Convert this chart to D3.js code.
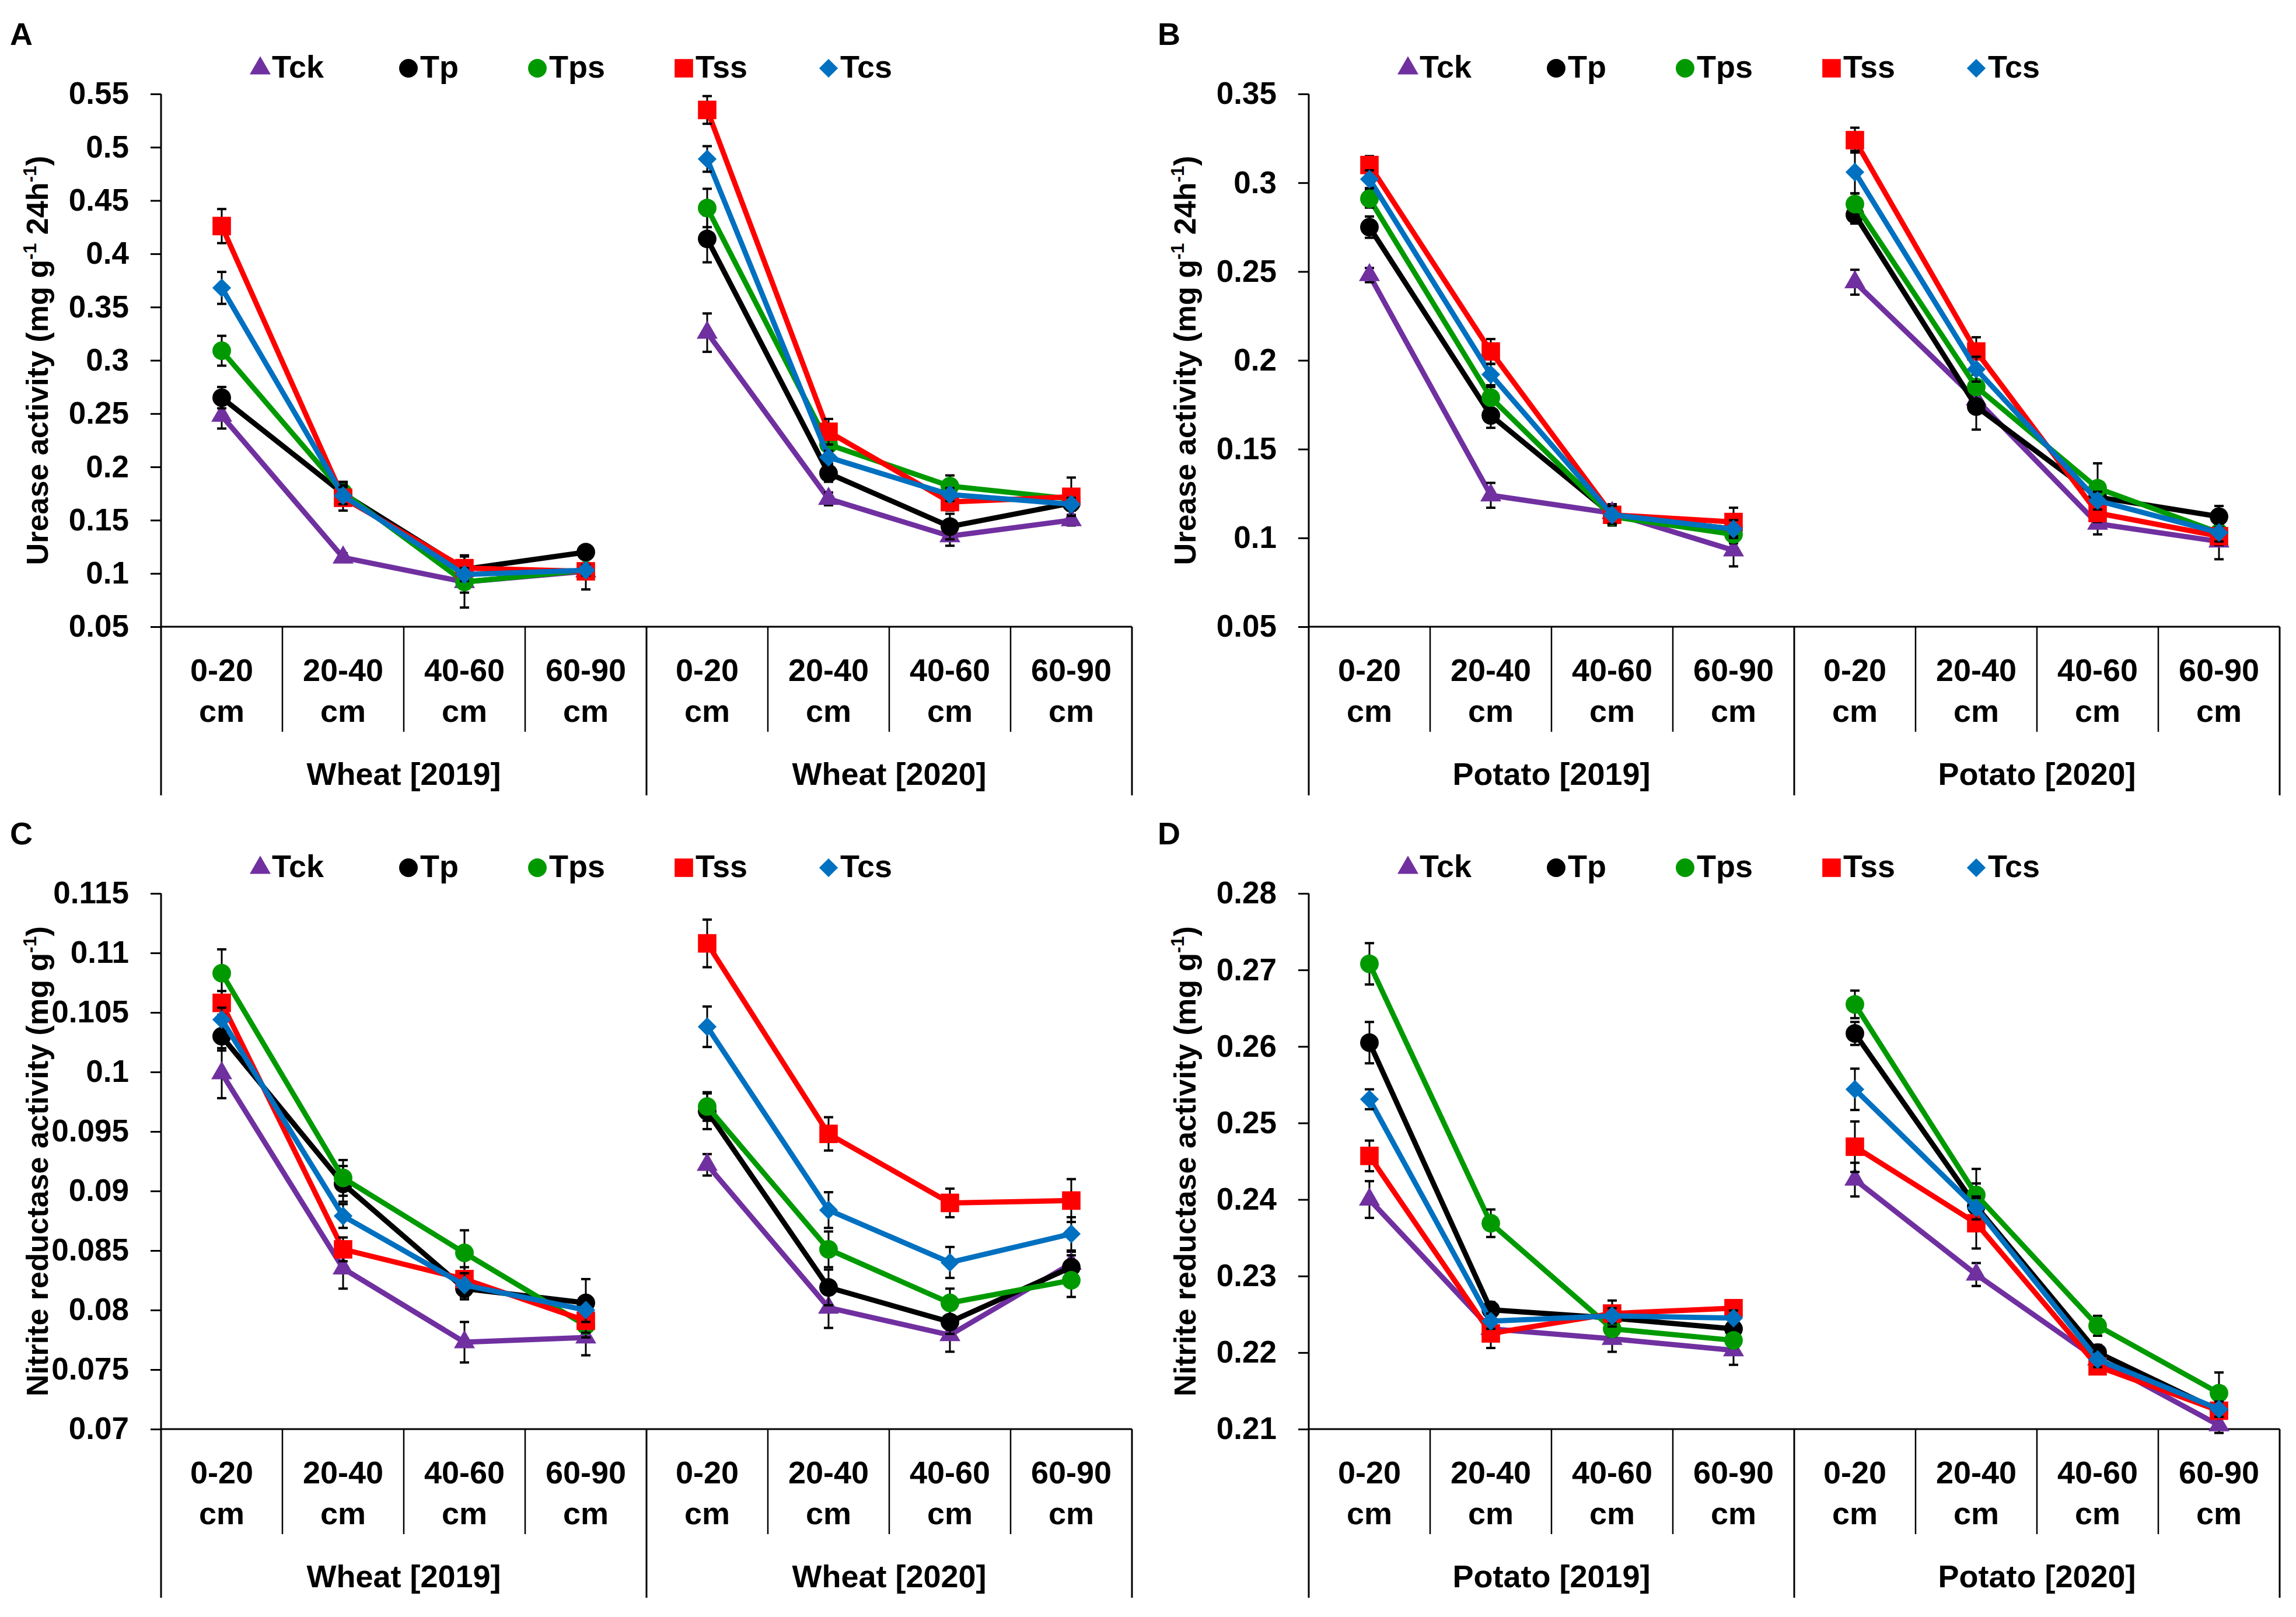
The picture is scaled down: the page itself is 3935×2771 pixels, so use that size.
<!DOCTYPE html>
<html lang="en">
<head>
<meta charset="UTF-8">
<title>Urease and nitrite reductase activity</title>
<script src="https://d3js.org/d3.v7.min.js"></script>
<style>
    body { margin: 0; background: #fff; }
    text { font-family: "Liberation Sans", Arial, sans-serif; font-weight: bold; fill: #000; }
</style>
</head>
<body>
<div id="chart"></div>
<script>
    // categories
    const depths = ['0-20', '20-40', '40-60', '60-90', '0-20', '20-40', '40-60', '60-90'];
    const seriesNames = ['Tck', 'Tp', 'Tps', 'Tss', 'Tcs'];
    const seriesColors = ['#7030A0', '#000000', '#009A00', '#FF0000', '#0070C0'];
    const wheatGroups = ['Wheat [2019]', 'Wheat [2020]'];
    const potatoGroups = ['Potato [2019]', 'Potato [2020]'];

    // tick labels
    const ticksA = [0.05, 0.1, 0.15, 0.2, 0.25, 0.3, 0.35, 0.4, 0.45, 0.5, 0.55];
    const ticksB = [0.05, 0.1, 0.15, 0.2, 0.25, 0.3, 0.35];
    const ticksC = [0.07, 0.075, 0.08, 0.085, 0.09, 0.095, 0.1, 0.105, 0.11, 0.115];
    const ticksD = [0.21, 0.22, 0.23, 0.24, 0.25, 0.26, 0.27, 0.28];

    // A: urease, wheat (rows Tck, Tp, Tps, Tss, Tcs)
    const ureaseWheat = [
        [0.248, 0.115, 0.092, 0.102, 0.326, 0.170, 0.135, 0.150],
        [0.265, 0.175, 0.104, 0.120, 0.414, 0.194, 0.144, 0.166],
        [0.309, 0.176, 0.092, 0.103, 0.443, 0.221, 0.182, 0.170],
        [0.426, 0.171, 0.105, 0.102, 0.535, 0.233, 0.167, 0.172],
        [0.368, 0.173, 0.099, 0.103, 0.489, 0.209, 0.174, 0.165]
    ];
    const ureaseWheatErr = [
        [0.012, 0.004, 0.024, 0.005, 0.018, 0.006, 0.009, 0.005],
        [0.010, 0.010, 0.012, 0.006, 0.022, 0.008, 0.012, 0.006],
        [0.014, 0.010, 0.010, 0.006, 0.018, 0.008, 0.010, 0.008],
        [0.016, 0.012, 0.012, 0.017, 0.013, 0.012, 0.008, 0.018],
        [0.015, 0.008, 0.006, 0.005, 0.012, 0.006, 0.006, 0.006]
    ];

    // B: urease, potato
    const ureasePotato = [
        [0.248, 0.124, 0.114, 0.093, 0.244, 0.178, 0.108, 0.098],
        [0.275, 0.169, 0.113, 0.105, 0.282, 0.174, 0.123, 0.112],
        [0.291, 0.179, 0.112, 0.102, 0.288, 0.185, 0.128, 0.103],
        [0.310, 0.205, 0.113, 0.109, 0.324, 0.205, 0.114, 0.101],
        [0.302, 0.192, 0.113, 0.105, 0.306, 0.195, 0.121, 0.103]
    ];
    const ureasePotatoErr = [
        [0.004, 0.007, 0.005, 0.009, 0.007, 0.006, 0.006, 0.010],
        [0.006, 0.007, 0.005, 0.005, 0.005, 0.013, 0.005, 0.006],
        [0.005, 0.006, 0.005, 0.005, 0.006, 0.007, 0.014, 0.005],
        [0.005, 0.007, 0.005, 0.008, 0.007, 0.008, 0.005, 0.005],
        [0.005, 0.006, 0.005, 0.005, 0.012, 0.007, 0.005, 0.005]
    ];

    // C: nitrite reductase, wheat
    const nitriteWheat = [
        [0.0999, 0.0835, 0.0773, 0.0777, 0.0922, 0.0802, 0.0779, 0.0839],
        [0.1030, 0.0906, 0.0818, 0.0806, 0.0967, 0.0819, 0.0790, 0.0836],
        [0.1083, 0.0911, 0.0848, 0.0787, 0.0971, 0.0851, 0.0806, 0.0825],
        [0.1058, 0.0851, 0.0826, 0.0791, 0.1108, 0.0948, 0.0890, 0.0892],
        [0.1044, 0.0879, 0.0821, 0.0800, 0.1038, 0.0884, 0.0840, 0.0864]
    ];
    const nitriteWheatErr = [
        [0.0021, 0.0017, 0.0017, 0.0015, 0.0009, 0.0017, 0.0014, 0.0010],
        [0.0012, 0.0015, 0.0009, 0.0020, 0.0015, 0.0015, 0.0010, 0.0010],
        [0.0020, 0.0015, 0.0019, 0.0010, 0.0012, 0.0015, 0.0012, 0.0014],
        [0.0010, 0.0010, 0.0010, 0.0010, 0.0020, 0.0014, 0.0012, 0.0018],
        [0.0010, 0.0010, 0.0010, 0.0010, 0.0017, 0.0015, 0.0013, 0.0014]
    ];

    // D: nitrite reductase, potato
    const nitritePotato = [
        [0.2400, 0.2231, 0.2218, 0.2203, 0.2426, 0.2302, 0.2191, 0.2105],
        [0.2605, 0.2256, 0.2245, 0.2231, 0.2617, 0.2391, 0.2200, 0.2124],
        [0.2708, 0.2369, 0.2231, 0.2216, 0.2655, 0.2406, 0.2235, 0.2147],
        [0.2457, 0.2225, 0.2251, 0.2258, 0.2469, 0.2369, 0.2182, 0.2124],
        [0.2531, 0.2241, 0.2248, 0.2245, 0.2544, 0.2389, 0.2191, 0.2126]
    ];
    const nitritePotatoErr = [
        [0.0024, 0.0010, 0.0017, 0.0019, 0.0022, 0.0015, 0.0010, 0.0010],
        [0.0027, 0.0010, 0.0010, 0.0010, 0.0015, 0.0030, 0.0010, 0.0010],
        [0.0027, 0.0018, 0.0010, 0.0010, 0.0018, 0.0034, 0.0013, 0.0027],
        [0.0020, 0.0019, 0.0017, 0.0010, 0.0033, 0.0033, 0.0010, 0.0010],
        [0.0013, 0.0010, 0.0010, 0.0010, 0.0027, 0.0015, 0.0010, 0.0010]
    ];

    const width = 3935;
    const height = 2771;

    const svg = d3.select('#chart')
        .append('svg')
        .attr('width', width)
        .attr('height', height);

    const panels = [
        { letter: 'A', x0: 276, x1: 1940, top: 161, bottom: 1074, domain: [0.05, 0.55], ticks: ticksA,
          title: 'urease', groups: wheatGroups, values: ureaseWheat, errors: ureaseWheatErr },
        { letter: 'B', x0: 2243, x1: 3907, top: 161, bottom: 1074, domain: [0.05, 0.35], ticks: ticksB,
          title: 'urease', groups: potatoGroups, values: ureasePotato, errors: ureasePotatoErr },
        { letter: 'C', x0: 276, x1: 1940, top: 1531, bottom: 2449, domain: [0.07, 0.115], ticks: ticksC,
          title: 'nitrite', groups: wheatGroups, values: nitriteWheat, errors: nitriteWheatErr },
        { letter: 'D', x0: 2243, x1: 3907, top: 1531, bottom: 2449, domain: [0.21, 0.28], ticks: ticksD,
          title: 'nitrite', groups: potatoGroups, values: nitritePotato, errors: nitritePotatoErr }
    ];

    // marker shapes per series
    const diamond = d3.symbol().type(d3.symbolSquare).size(520)();
    const markerPath = [
        d3.symbol().type(d3.symbolTriangle).size(560)(),
        d3.symbol().type(d3.symbolCircle).size(800)(),
        d3.symbol().type(d3.symbolCircle).size(800)(),
        d3.symbol().type(d3.symbolSquare).size(1000)(),
        diamond
    ];
    const markerRotate = [0, 0, 0, 0, 45];

    const fmt = d => String(+d.toFixed(3));

    panels.forEach(p => drawPanel(p));

    function drawPanel(p) {
        const g = svg.append('g');

        const x = d3.scaleBand()
            .domain(d3.range(depths.length))
            .range([p.x0, p.x1])
            .padding(0);

        const y = d3.scaleLinear()
            .domain(p.domain)
            .range([p.bottom, p.top]);

        const cx = i => x(i) + x.bandwidth() / 2;

        // panel letter
        g.append('text')
            .attr('x', p.x0 - 259)
            .attr('y', p.top - 84)
            .attr('font-size', 54)
            .text(p.letter);

        // y axis
        const yAxis = g.append('g')
            .attr('transform', `translate(${p.x0},0)`)
            .call(d3.axisLeft(y).tickValues(p.ticks).tickFormat(fmt).tickSize(18).tickSizeOuter(0).tickPadding(37));
        yAxis.select('.domain').remove();
        yAxis.selectAll('.tick line').attr('stroke', '#000').attr('stroke-width', 3);
        yAxis.selectAll('.tick text')
            .attr('font-size', 53)
            .attr('font-family', '"Liberation Sans", Arial, sans-serif')
            .attr('font-weight', 'bold')
            .attr('fill', '#000');

        // axis lines
        g.append('line')
            .attr('x1', p.x0).attr('x2', p.x0)
            .attr('y1', p.top).attr('y2', p.bottom + 289)
            .attr('stroke', '#000').attr('stroke-width', 3);
        g.append('line')
            .attr('x1', p.x0).attr('x2', p.x1)
            .attr('y1', p.bottom).attr('y2', p.bottom)
            .attr('stroke', '#000').attr('stroke-width', 3);

        // category separators
        d3.range(1, depths.length + 1).forEach(i => {
            const xx = i === depths.length ? p.x1 : x(i);
            const long = i % 4 === 0;
            g.append('line')
                .attr('x1', xx).attr('x2', xx)
                .attr('y1', p.bottom).attr('y2', p.bottom + (long ? 289 : 180))
                .attr('stroke', '#000').attr('stroke-width', long ? 3 : 2.5);
        });

        // category labels
        depths.forEach((d, i) => {
            g.append('text')
                .attr('x', cx(i)).attr('y', p.bottom + 93)
                .attr('text-anchor', 'middle').attr('font-size', 54)
                .text(d);
            g.append('text')
                .attr('x', cx(i)).attr('y', p.bottom + 163)
                .attr('text-anchor', 'middle').attr('font-size', 54)
                .text('cm');
        });
        p.groups.forEach((gr, k) => {
            g.append('text')
                .attr('x', (x(k * 4) + (k === 1 ? p.x1 : x(4))) / 2)
                .attr('y', p.bottom + 271)
                .attr('text-anchor', 'middle').attr('font-size', 54)
                .text(gr);
        });

        // y axis title
        const tx = p.x0 - 194;
        const ty = (p.top + p.bottom) / 2;
        const title = g.append('text')
            .attr('transform', `translate(${tx},${ty}) rotate(-90)`)
            .attr('text-anchor', 'middle')
            .attr('font-size', 52);
        if (p.title === 'urease') {
            title.append('tspan').text('Urease activity (mg g');
            title.append('tspan').attr('font-size', 32).attr('dy', -20).text('-1');
            title.append('tspan').attr('dy', 20).text(' 24h');
            title.append('tspan').attr('font-size', 32).attr('dy', -20).text('-1');
            title.append('tspan').attr('dy', 20).text(')');
        } else {
            title.append('tspan').text('Nitrite reductase activity (mg g');
            title.append('tspan').attr('font-size', 32).attr('dy', -20).text('-1');
            title.append('tspan').attr('dy', 20).text(')');
        }

        // legend
        const legendX = [170, 424, 645, 896, 1144];
        seriesNames.forEach((name, s) => {
            const lx = p.x0 + legendX[s];
            g.append('path')
                .attr('d', markerPath[s])
                .attr('transform', `translate(${lx},${p.top - 44}) rotate(${markerRotate[s]})`)
                .attr('fill', seriesColors[s]);
            g.append('text')
                .attr('x', lx + 20)
                .attr('y', p.top - 28)
                .attr('font-size', 54)
                .text(name);
        });

        // series
        const line = d3.line()
            .x(d => cx(d.i))
            .y(d => y(d.v));

        p.values.forEach((vals, s) => {
            const pts = vals.map((v, i) => ({ i, v, e: p.errors[s][i] }));
            [pts.slice(0, 4), pts.slice(4)].forEach(seg => {
                g.append('path')
                    .attr('d', line(seg))
                    .attr('fill', 'none')
                    .attr('stroke', seriesColors[s])
                    .attr('stroke-width', 9)
                    .attr('stroke-linejoin', 'round');
            });

            // error bars
            pts.forEach(d => {
                const xx = cx(d.i);
                g.append('line')
                    .attr('x1', xx).attr('x2', xx)
                    .attr('y1', y(d.v + d.e)).attr('y2', y(d.v - d.e))
                    .attr('stroke', '#000').attr('stroke-width', 3);
                [d.v + d.e, d.v - d.e].forEach(c => {
                    g.append('line')
                        .attr('x1', xx - 8).attr('x2', xx + 8)
                        .attr('y1', y(c)).attr('y2', y(c))
                        .attr('stroke', '#000').attr('stroke-width', 4);
                });
            });

            g.selectAll(null)
                .data(pts)
                .enter()
                .append('path')
                .attr('d', markerPath[s])
                .attr('transform', d => `translate(${cx(d.i)},${y(d.v)}) rotate(${markerRotate[s]})`)
                .attr('fill', seriesColors[s]);
        });
    }
</script>
</body>
</html>
